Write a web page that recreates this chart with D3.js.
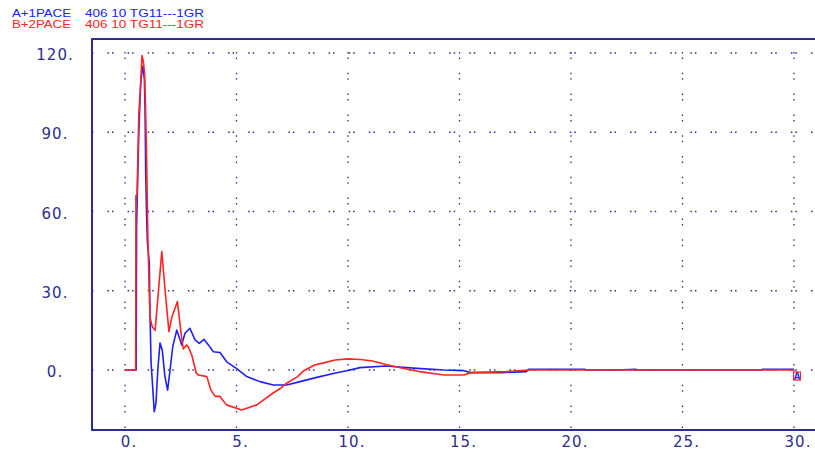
<!DOCTYPE html>
<html><head><meta charset="utf-8">
<script src="https://cdn.jsdelivr.net/npm/d3@7"></script>
<style>html,body{margin:0;padding:0;background:#fff;}svg{display:block;}</style>
</head><body>
<svg id="c" width="815" height="454"></svg>
<script>
// ---- data ----
const xTicks = [0, 5, 10, 15, 20, 25, 30];
const yTicks = [0, 30, 60, 90, 120];
const xTickLabels = ["0.", "5.", "10.", "15.", "20.", "25.", "30."];
const yTickLabels = ["0.", "30.", "60.", "90.", "120."];
const legendNames = ["A+1PACE", "B+2PACE"];
const legendDesc = ["406 10 TG11---1GR", "406 10 TG11---1GR"];
const blueX = [0,0.5,0.52,0.62,0.7,0.75,0.8,0.83,0.87,0.9,0.93,0.97,1.0,1.04,1.09,1.12,1.17,1.24,1.31,1.39,1.47,1.57,1.67,1.79,1.91,2.02,2.14,2.32,2.47,2.54,2.69,2.91,3.14,3.33,3.54,3.74,3.96,4.26,4.56,5.01,5.46,6.05,6.65,7.25,7.85,8.6,9.34,9.94,10.54,11.7,13.1,14.3,15.2,15.5,16.9,18.0,18.1,20.6,20.7,22.0,22.9,23.0,28.5,28.6,30];
const blueY = [0,0,55,90,108,112,115,113,110,98,74,58,49,45,40.5,21.6,2.6,-6.3,-15.8,-12.5,0,10.2,7.6,-2.5,-7.6,0,8.8,15.1,11.4,9.5,13.9,15.8,11.4,10.1,11.6,9.5,6.9,6.6,3.1,0.5,-2.5,-4.4,-5.7,-5.7,-4.4,-2.8,-1.3,-0.3,0.9,1.5,0.6,0,-0.25,-1.0,-1.0,-0.6,0.3,0.3,0,0,0.3,0,0,0.3,0.3];
const redX = [0,0.48,0.49,0.54,0.55,0.62,0.7,0.76,0.82,0.88,0.92,0.97,1.02,1.07,1.12,1.22,1.35,1.65,1.8,1.97,2.1,2.35,2.5,2.61,2.76,2.85,3.0,3.2,3.3,3.67,3.85,4.04,4.26,4.55,5.23,5.91,6.64,7.0,7.25,7.74,7.98,8.5,8.96,9.42,10.0,10.57,11.1,11.7,12.5,13.2,14.3,15.2,15.5,17.1,18.1,30];
const redY = [0,0,66,66,70,97,108,119,117,112,100,80,53,35,20,16.4,15,44.8,30,14.5,20,25.9,15,8.0,9.5,8.5,5.5,-1.3,-1.9,-2.5,-7.6,-10,-10,-13.2,-15.1,-13.2,-8.7,-6.8,-5.0,-2.5,-0.5,1.9,2.8,3.8,4.2,4.0,3.4,2.1,0.6,-0.6,-1.9,-1.9,-1.0,-0.6,0,0];
const seriesColors = ["#2020f0", "#ff2424"];

// ---- layout ----
const svg = d3.select("#c");
const frameL = 92, frameT = 39, frameB = 430, frameR = 815;
const axisColor = "#2e2e8c";
const x = d3.scaleLinear().domain([0, 30]).range([125, 794]);
const y = d3.scaleLinear().domain([0, 120]).range([370, 53]);

// grid (dotted)
const g = svg.append("g");
g.selectAll("line.vg").data(xTicks).join("line")
  .attr("x1", d => x(d)).attr("x2", d => x(d))
  .attr("y1", frameT).attr("y2", frameB)
  .attr("stroke", axisColor).attr("stroke-width", 1.3)
  .attr("stroke-dasharray", "1.5,4,1.5,13.8").attr("stroke-dashoffset", -13);
g.selectAll("line.hg").data(yTicks).join("line")
  .attr("x1", frameL).attr("x2", frameR)
  .attr("y1", d => y(d)).attr("y2", d => y(d))
  .attr("stroke", axisColor).attr("stroke-width", 1.3)
  .attr("stroke-dasharray", "1.5,3,1.5,14.1").attr("stroke-dashoffset", -15.5);

// frame
svg.append("line").attr("x1", frameL).attr("x2", frameR).attr("y1", frameT).attr("y2", frameT)
  .attr("stroke", axisColor).attr("stroke-width", 2);
svg.append("line").attr("x1", frameL).attr("x2", frameR).attr("y1", frameB).attr("y2", frameB)
  .attr("stroke", axisColor).attr("stroke-width", 2);
svg.append("line").attr("x1", frameL).attr("x2", frameL).attr("y1", frameT - 1).attr("y2", frameB + 1)
  .attr("stroke", axisColor).attr("stroke-width", 2);

// tick labels
const lblFont = "'DejaVu Sans', sans-serif";
svg.selectAll("text.xl").data(xTicks).join("text")
  .attr("x", d => x(d) + 4).attr("y", 447)
  .attr("text-anchor", "middle").attr("font-family", lblFont).attr("font-size", 15)
  .attr("letter-spacing", 1).attr("fill", axisColor)
  .text((d, i) => xTickLabels[i]);
svg.selectAll("text.yl").data(yTicks).join("text")
  .attr("x", 55).attr("y", d => y(d) + 7)
  .attr("text-anchor", "middle").attr("font-family", lblFont).attr("font-size", 15)
  .attr("letter-spacing", 1).attr("fill", axisColor)
  .text((d, i) => yTickLabels[i]);

// series
const line = d3.line().x(d => x(d[0])).y(d => y(d[1]));
const blue = blueX.map((v, i) => [v, blueY[i]]);
const red = redX.map((v, i) => [v, redY[i]]);
svg.append("path").datum(blue).attr("d", line).attr("fill", "none")
  .attr("stroke", seriesColors[0]).attr("stroke-width", 1.6).attr("stroke-linejoin", "round");
svg.append("path").datum(red).attr("d", line).attr("fill", "none")
  .attr("stroke", seriesColors[1]).attr("stroke-width", 1.6).attr("stroke-linejoin", "round");

// end markers
svg.append("text").attr("x", x(30) + 3).attr("y", y(0) + 10).attr("text-anchor", "middle")
  .attr("font-family", "'Liberation Sans', Arial, sans-serif").attr("font-size", 10).attr("font-weight", "bold")
  .attr("fill", seriesColors[0]).text("A");
svg.append("rect").attr("x", x(30) - 0.5).attr("y", y(0) + 2).attr("width", 7).attr("height", 8)
  .attr("fill", "none").attr("stroke", seriesColors[1]).attr("stroke-width", 1.2);

// legend
const lf = "'Liberation Sans', Arial, sans-serif";
legendNames.forEach((n, i) => {
  svg.append("text").attr("x", 12).attr("y", 17 + i * 10.5).attr("font-family", lf).attr("font-size", 11)
    .attr("fill", seriesColors[i]).attr("textLength", 59).attr("lengthAdjust", "spacingAndGlyphs").text(n);
  svg.append("text").attr("x", 85).attr("y", 17 + i * 10.5).attr("font-family", lf).attr("font-size", 11)
    .attr("fill", seriesColors[i]).attr("textLength", 119).attr("lengthAdjust", "spacingAndGlyphs").text(legendDesc[i]);
});
</script>
</body></html>
